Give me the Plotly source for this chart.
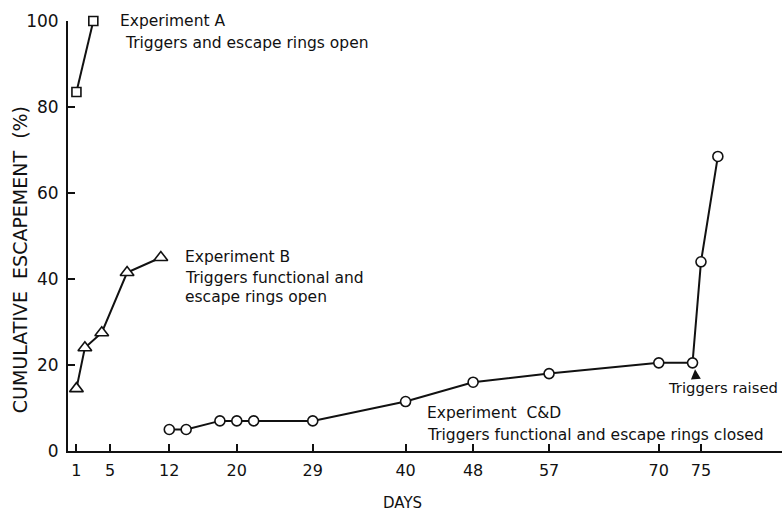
import plotly.graph_objects as go

# Experiment A (squares)
days_a = [1, 3]
esc_a = [83.5, 100]

# Experiment B (triangles)
days_b = [1, 2, 4, 7, 11]
esc_b = [14.5, 24, 27.5, 41.5, 45]

# Experiment C&D (circles)
days_cd = [12, 14, 18, 20, 22, 29, 40, 48, 57, 70, 74, 75, 77]
esc_cd = [5, 5, 7, 7, 7, 7, 11.5, 16, 18, 20.5, 20.5, 44, 68.5]

x_ticks = [1, 5, 12, 20, 29, 40, 48, 57, 70, 75]
y_ticks = [0, 20, 40, 60, 80, 100]

FONT = "DejaVu Sans"
BLACK = "#111111"
TXT = 15.5

fig = go.Figure()

def add_series(x, y, symbol, size):
    fig.add_trace(go.Scatter(
        x=x, y=y, mode="lines+markers",
        line=dict(color=BLACK, width=2),
        marker=dict(symbol=symbol, size=size, color="white",
                    line=dict(color=BLACK, width=1.6)),
        cliponaxis=False, showlegend=False, hoverinfo="x+y"))

add_series(days_a, esc_a, "square", 9)
add_series(days_b, esc_b, "triangle-up", 12)
add_series(days_cd, esc_cd, "circle", 10)

anns = [
    dict(x=5.9, y=100, text="Experiment A", size=TXT),
    dict(x=6.5, y=94.8, text="Triggers and escape rings open", size=TXT),
    dict(x=13.6, y=45.2, text="Experiment B", size=TXT),
    dict(x=13.6, y=40.3, text="Triggers functional and", size=TXT),
    dict(x=13.6, y=35.9, text="escape rings open", size=TXT),
    dict(x=42.3, y=8.8, text="Experiment  C&D", size=TXT),
    dict(x=42.3, y=3.7, text="Triggers functional and escape rings closed", size=TXT),
    dict(x=70.8, y=14.8, text="Triggers raised", size=14.8),
]
for a in anns:
    s = a.pop("size")
    fig.add_annotation(showarrow=False, xanchor="left", yanchor="middle",
                       font=dict(family=FONT, size=s, color=BLACK), **a)

# arrow pointing to the point where triggers were raised
fig.add_annotation(x=74.3, y=19.0, ax=74.4, ay=16.6, axref="x", ayref="y",
                   text="", showarrow=True, arrowhead=2, arrowsize=1.1,
                   arrowwidth=1.8, arrowcolor=BLACK)

# axis titles
fig.add_annotation(x=0.468, y=-0.121, xref="paper", yref="paper", text="DAYS",
                   showarrow=False, xanchor="center", yanchor="middle",
                   font=dict(family=FONT, size=15, color=BLACK))
fig.add_annotation(x=-0.067, y=0.444, xref="paper", yref="paper",
                   text="CUMULATIVE  ESCAPEMENT  (%)", textangle=-90,
                   showarrow=False, xanchor="center", yanchor="middle",
                   font=dict(family=FONT, size=19, color=BLACK))

fig.update_layout(
    width=782, height=511,
    margin=dict(l=68, r=0, t=21, b=60),
    paper_bgcolor="white", plot_bgcolor="white",
    font=dict(family=FONT, color=BLACK),
    xaxis=dict(range=[0, 84.6], tickvals=x_ticks, ticktext=[str(v) for v in x_ticks],
               ticks="inside", ticklen=7, tickwidth=1.5, tickcolor=BLACK,
               showline=True, linecolor=BLACK, linewidth=2, showgrid=False,
               zeroline=False, automargin=False, ticklabelstandoff=4,
               tickfont=dict(size=16, family=FONT)),
    yaxis=dict(range=[0, 100], tickvals=y_ticks, ticks="inside", ticklen=7,
               tickwidth=1.5, tickcolor=BLACK, showline=True, linecolor=BLACK,
               linewidth=2, showgrid=False, zeroline=False, automargin=False,
               tickfont=dict(size=17, family=FONT), ticklabelstandoff=4),
)

fig.write_html("out.html", config={"displayModeBar": False},
               post_script="document.body.style.margin='0';document.body.style.overflow='hidden';")
